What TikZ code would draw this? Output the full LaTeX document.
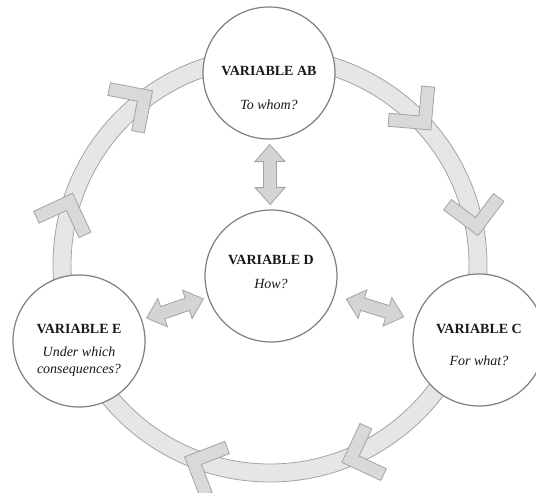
\documentclass[tikz,border=0pt]{standalone}
\usepackage{fontspec}
\setmainfont{Liberation Serif}
\usepackage{tikz}
\usetikzlibrary{calc}
\usetikzlibrary{positioning}
\definecolor{ringfill}{HTML}{E6E6E6}
\definecolor{ringline}{HTML}{A3A3A3}
\definecolor{chevfill}{HTML}{D9D9D9}
\definecolor{arrfill}{HTML}{D4D4D4}
\definecolor{circline}{HTML}{7F7F7F}
\tikzstyle{ring}=[fill=ringfill, draw=ringline, line width=0.8pt, even odd rule]
\tikzstyle{chevron}=[fill=chevfill, draw=ringline, line width=0.8pt]
\tikzstyle{varcircle}=[circle, draw=circline, line width=1.2pt, fill=white,
  minimum size=132pt, inner sep=0pt]
\tikzstyle{vlabel}=[align=center, text=black!90,
  font=\fontsize{14}{16.5}\selectfont]
\tikzstyle{arrblock}=[fill=arrfill, draw=ringline, line width=0.8pt]

% double block arrow between two nodes, 60pt long, centred in the gap
\newcommand{\blockarrow}[2]{%
  \path (#1) -- (#2) coordinate[pos=0] (ba) coordinate[pos=1] (bb);
  \coordinate (bm) at ($(ba)!0.5!(bb)$);
  \coordinate (bs) at ($(bm)!30pt!(ba)$);
  \coordinate (be) at ($(bm)!30pt!(bb)$);
  \coordinate (hs) at ($(bs)!17pt!(be)$);
  \coordinate (he) at ($(be)!17pt!(bs)$);
  \draw[arrblock] (bs) -- ($(hs)!15pt!90:(be)$) -- ($(hs)!6.5pt!90:(be)$)
    -- ($(he)!6.5pt!-90:(bs)$) -- ($(he)!15pt!-90:(bs)$) -- (be)
    -- ($(he)!15pt!90:(bs)$) -- ($(he)!6.5pt!90:(bs)$)
    -- ($(hs)!6.5pt!-90:(be)$) -- ($(hs)!15pt!-90:(be)$) -- cycle;
}

\begin{document}
\begin{tikzpicture}[x=1pt, y=1pt]

\useasboundingbox (0,0) rectangle (536,493);

\coordinate (O) at (270,228);

% the cycle
\path[ring] (O) circle (217) (O) circle (199);
\foreach \a in {40,8,-70,-114,160,124}
  \draw[chevron, shift={(O)}, rotate=\a] (210,0) -- (240.4,30.4) -- (231.2,39.6)
    -- (210,18.4) -- (188.8,39.6) -- (179.6,30.4) -- cycle;

\node[varcircle, label={[vlabel, yshift=-15pt]center:{\textbf{VARIABLE AB}\\[18pt]
  \textit{To whom?}}}] (AB) at (269,420) {};
\node[varcircle, label={[vlabel, yshift=4pt]center:{\textbf{VARIABLE D}\\[8pt]
  \textit{How?}}}] (D) at (271,217) {};
\node[varcircle, label={[vlabel, yshift=-5pt]center:{\textbf{VARIABLE C}\\[16pt]
  \textit{For what?}}}] (C) at (479,153) {};
\node[varcircle, label={[vlabel, yshift=-9pt]center:{\textbf{VARIABLE E}\\[7pt]
  \textit{Under which}\\\textit{consequences?}}}] (E) at (79,152) {};

\blockarrow{AB}{D}
\blockarrow{E}{D}
\blockarrow{D}{C}

\end{tikzpicture}
\end{document}
